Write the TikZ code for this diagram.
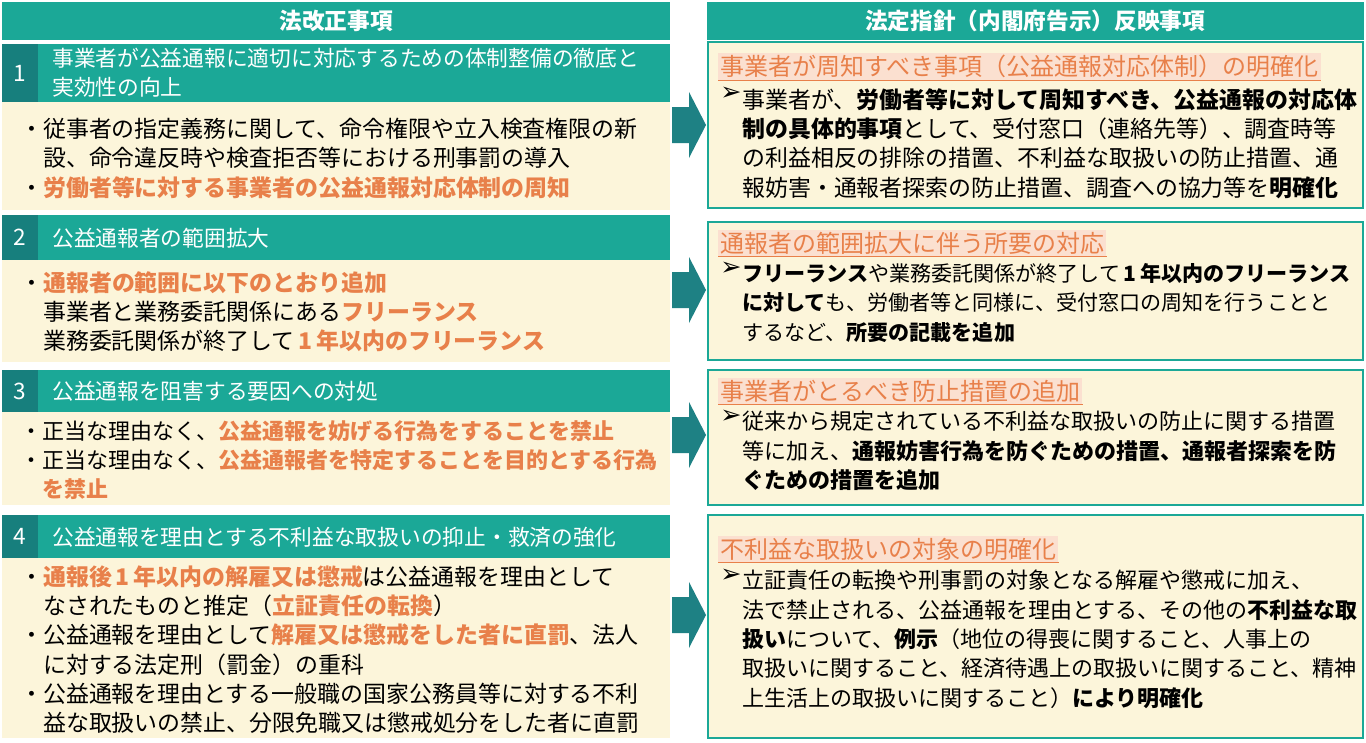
\documentclass[tikz,border=0pt]{standalone}
\usepackage{fontspec}
\setmainfont{Noto Sans CJK JP}
\newfontfamily\djv{DejaVu Sans}
\usetikzlibrary{positioning}
\definecolor{tealhead}{HTML}{1BA897}
\definecolor{tealnum}{HTML}{177F7D}
\definecolor{tealarrow}{HTML}{1E8184}
\definecolor{creambox}{HTML}{FCF5DA}
\definecolor{orangetxt}{HTML}{E8804A}
\definecolor{pinkbg}{HTML}{FBE0D0}
\newcommand{\hl}[1]{\textcolor{orangetxt}{\textbf{#1}}}
\newcommand{\ptr}{{\djv\char"27A2}}
\tikzset{
  body/.style={anchor=north west,align=left,inner sep=0pt,font=\fontsize{17.2}{22}\selectfont},
  htext/.style={text=white,inner sep=0pt,font=\fontsize{16.3}{22}\selectfont},
  rtitle/.style={anchor=north west,inner sep=1.5pt,fill=pinkbg,text=orangetxt,font=\fontsize{18}{22}\selectfont},
  rbox/.style={draw=tealhead,line width=1.1pt,fill=creambox}
}
\begin{document}
\begin{tikzpicture}[x=0.75pt,y=-0.75pt]
\useasboundingbox (0,0) rectangle (1366,742);
\fill[white] (0,0) rectangle (1366,742);
% column headers
\fill[tealhead] (2,2) rectangle (670,40);
\node[htext,font=\fontsize{17}{22}\selectfont\bfseries] (lhead) at (336,21) {法改正事項};
\fill[tealhead] (707,2) rectangle (1364,40);
\node[htext,font=\fontsize{17}{22}\selectfont\bfseries] (rhead) at (1035,21) {法定指針（内閣府告示）反映事項};
% left boxes: header top / body top / bottom
\foreach \n/\ya/\yb/\yc in {1/44/102/210, 2/215/260/362, 3/370/412/505, 4/515/558/738}{
  \fill[tealhead] (2,\ya) rectangle (670,\yb);
  \fill[tealnum] (2,\ya) rectangle (38,\yb);
  \fill[creambox] (2,\yb) rectangle (670,\yc);
  \node[htext,font=\fontsize{17}{22}\selectfont] (num\n) at (20,{(\ya+\yb)/2}) {\n};
}
% right boxes
\foreach \ya/\yc in {42/208, 222/360, 370/505, 515/738}
  \draw[rbox] (708,\ya) rectangle (1363,\yc);
% arrows
\foreach \yy in {125,290,435,615}
  \fill[tealarrow] (672,\yy-18) -- (689,\yy-18) -- (689,\yy-33) -- (706,\yy)
    -- (689,\yy+33) -- (689,\yy+18) -- (672,\yy+18) -- cycle;
% left titles
\node[htext,anchor=west,align=left] (lt1) at (52,73) {事業者が公益通報に適切に対応するための体制整備の徹底と\\実効性の向上};
\node[htext,anchor=west] (lt2) at (52,238) {公益通報者の範囲拡大};
\node[htext,anchor=west] (lt3) at (52,391) {公益通報を阻害する要因への対処};
\node[htext,anchor=west] (lt4) at (52,537) {公益通報を理由とする不利益な取扱いの抑止・救済の強化};
% left bodies
\node[body] (lb1) at (20,118) {・従事者の指定義務に関して、命令権限や立入検査権限の新\\
　設、命令違反時や検査拒否等における刑事罰の導入\\
・\hl{労働者等に対する事業者の公益通報対応体制の周知}};
\node[body] (lb2) at (20,271) {・\hl{通報者の範囲に以下のとおり追加}\\
　事業者と業務委託関係にある\hl{フリーランス}\\
　業務委託関係が終了して\hl{\,1\,年以内のフリーランス}};
\node[body,font=\fontsize{16.5}{22}\selectfont] (lb3) at (20,420) {・正当な理由なく、\hl{公益通報を妨げる行為をすることを禁止}\\
・正当な理由なく、\hl{公益通報者を特定することを目的とする行為}\\
　\hl{を禁止}};
\node[body] (lb4) at (20,565) {・\hl{通報後\,1\,年以内の解雇又は懲戒}は公益通報を理由として\\
　なされたものと推定（\hl{立証責任の転換}）\\
・公益通報を理由として\hl{解雇又は懲戒をした者に直罰}、法人\\
　に対する法定刑（罰金）の重科\\
・公益通報を理由とする一般職の国家公務員等に対する不利\\
　益な取扱いの禁止、分限免職又は懲戒処分をした者に直罰};
% right titles
\node[rtitle] (rt1) at (718,53) {事業者が周知すべき事項（公益通報対応体制）の明確化};
\node[rtitle] (rt2) at (718,230) {通報者の範囲拡大に伴う所要の対応};
\node[rtitle] (rt3) at (718,378) {事業者がとるべき防止措置の追加};
\node[rtitle] (rt4) at (718,536) {不利益な取扱いの対象の明確化};
\foreach \t in {rt1,rt2,rt3,rt4}
  \draw[orangetxt,line width=0.8pt] (\t.south west) -- (\t.south east);
% right bodies
\foreach \t/\yy in {1/87,2/262,3/410,4/569}
  \node[body,font=\fontsize{19}{22}\selectfont] (ra\t) at (720,\yy) {\ptr};
\node[body] (rb1) at (742,88) {事業者が、\textbf{労働者等に対して周知すべき、公益通報の対応体}\\
\textbf{制の具体的事項}として、受付窓口（連絡先等）、調査時等\\
の利益相反の排除の措置、不利益な取扱いの防止措置、通\\
報妨害・通報者探索の防止措置、調査への協力等を\textbf{明確化}};
\node[body,font=\fontsize{15.8}{22}\selectfont] (rb2) at (742,263) {\textbf{フリーランス}や業務委託関係が終了して\textbf{\,1\,年以内のフリーランス}\\
\textbf{に対して}も、労働者等と同様に、受付窓口の周知を行うことと\\
するなど、\textbf{所要の記載を追加}};
\node[body,font=\fontsize{16.5}{22}\selectfont] (rb3) at (742,411) {従来から規定されている不利益な取扱いの防止に関する措置\\
等に加え、\textbf{通報妨害行為を防ぐための措置、通報者探索を防}\\
\textbf{ぐための措置を追加}};
\node[body,font=\fontsize{16.5}{22}\selectfont] (rb4) at (742,570) {立証責任の転換や刑事罰の対象となる解雇や懲戒に加え、\\
法で禁止される、公益通報を理由とする、その他の\textbf{不利益な取}\\
\textbf{扱い}について、\textbf{例示}（地位の得喪に関すること、人事上の\\
取扱いに関すること、経済待遇上の取扱いに関すること、精神\\
上生活上の取扱いに関すること）\textbf{により明確化}};
\end{tikzpicture}
\end{document}
